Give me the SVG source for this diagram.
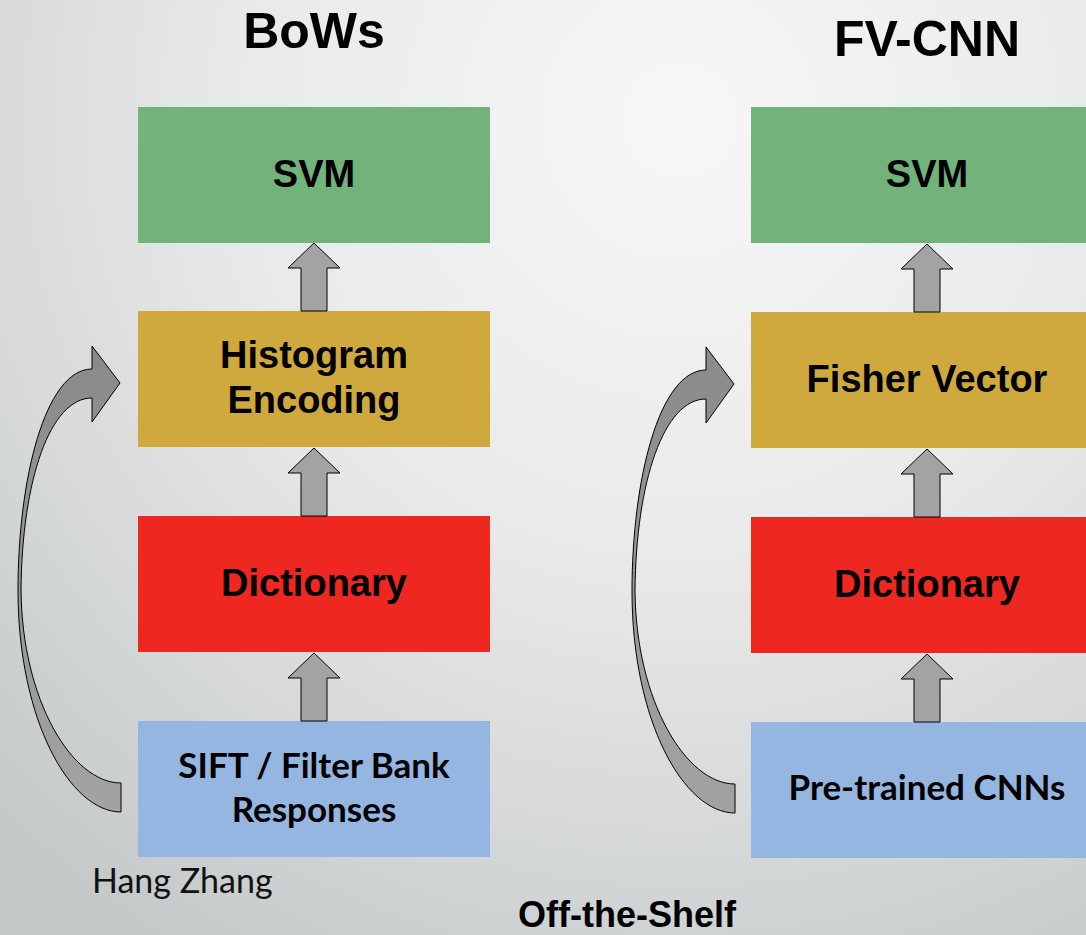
<svg xmlns="http://www.w3.org/2000/svg" width="1086" height="935" viewBox="0 0 1086 935">
  <defs>
    <radialGradient id="bg" cx="680" cy="120" r="1000" gradientUnits="userSpaceOnUse">
      <stop offset="0" stop-color="#f7f7f7"/>
      <stop offset="0.45" stop-color="#e8e9e9"/>
      <stop offset="1" stop-color="#c3c7c8"/>
    </radialGradient>
    <linearGradient id="curveFill" x1="0" y1="0" x2="0" y2="1">
      <stop offset="0" stop-color="#8a8a8a"/>
      <stop offset="1" stop-color="#a3a3a3"/>
    </linearGradient>
    <style>
      .box { stroke: none; }
      .svm { fill: #72b37c; }
      .enc { fill: #d0a93e; }
      .dict { fill: #ee2820; }
      .feat { fill: #95b6e0; }
      .lbl { font-family: "Liberation Sans", Arial, sans-serif; font-weight: bold; font-size: 38px; fill: #000; text-anchor: middle; }
      .lbl2 { font-family: Lato, "Open Sans", sans-serif; font-weight: bold; font-size: 35px; fill: #000; text-anchor: middle; }
      .title { font-family: "Liberation Sans", Arial, sans-serif; font-weight: bold; font-size: 50px; fill: #000; text-anchor: middle; }
      .up { fill: #a3a3a3; stroke: #000; stroke-width: 1; }
      .loop { fill: url(#curveFill); stroke: #000; stroke-width: 1; }
    </style>
    <polygon id="upArrow" points="0,0 26,25 13,25 13,68 -13,68 -13,25 -26,25"/>
    <path id="loopArrow" d="M120,383 L92,346 L92,369 C45,369 18,480 18,590 C18,720 70,812 121,812 L121,783 C72,783 22,700 21,590 C22,480 50,398 92,398 L92,422 Z"/>
  </defs>

  <rect x="0" y="0" width="1086" height="935" fill="url(#bg)"/>

  <text class="title" x="314" y="48">BoWs</text>
  <text class="title" x="927" y="56">FV-CNN</text>

  <!-- BoWs pipeline -->
  <g id="bows-svm">
    <rect class="box svm" x="138" y="107" width="352" height="136"/>
    <text class="lbl" x="314" y="187">SVM</text>
  </g>
  <g id="bows-hist">
    <rect class="box enc" x="138" y="311" width="352" height="136"/>
    <text class="lbl" x="314" y="368">Histogram</text>
    <text class="lbl" x="314" y="413">Encoding</text>
  </g>
  <g id="bows-dict">
    <rect class="box dict" x="138" y="516" width="352" height="136"/>
    <text class="lbl" x="314" y="596">Dictionary</text>
  </g>
  <g id="bows-sift">
    <rect class="box feat" x="138" y="721" width="352" height="136"/>
    <text class="lbl2" x="314" y="778">SIFT / Filter Bank</text>
    <text class="lbl2" x="314" y="822">Responses</text>
  </g>

  <!-- FV-CNN pipeline -->
  <g id="fv-svm">
    <rect class="box svm" x="751" y="107" width="352" height="136"/>
    <text class="lbl" x="927" y="187">SVM</text>
  </g>
  <g id="fv-fisher">
    <rect class="box enc" x="751" y="312" width="352" height="136"/>
    <text class="lbl" x="927" y="392">Fisher Vector</text>
  </g>
  <g id="fv-dict">
    <rect class="box dict" x="751" y="517" width="352" height="136"/>
    <text class="lbl" x="927" y="597">Dictionary</text>
  </g>
  <g id="fv-cnn">
    <rect class="box feat" x="751" y="722" width="352" height="136"/>
    <text class="lbl2" x="927" y="800">Pre-trained CNNs</text>
  </g>

  <!-- connectors -->
  <g id="connectors">
    <use href="#upArrow" class="up" x="314" y="243"/>
    <use href="#upArrow" class="up" x="314" y="448"/>
    <use href="#upArrow" class="up" x="314" y="653"/>
    <use href="#upArrow" class="up" x="927" y="244"/>
    <use href="#upArrow" class="up" x="927" y="449"/>
    <use href="#upArrow" class="up" x="927" y="654"/>
    <use href="#loopArrow" class="loop"/>
    <use href="#loopArrow" class="loop" x="614" y="1"/>
  </g>

  <text x="92" y="893" font-family="Lato, 'Open Sans', sans-serif" font-size="34" fill="#111">Hang Zhang</text>
  <text x="627" y="927" font-family="'Liberation Sans', Arial, sans-serif" font-weight="bold" font-size="36" fill="#000" text-anchor="middle">Off-the-Shelf</text>
</svg>
